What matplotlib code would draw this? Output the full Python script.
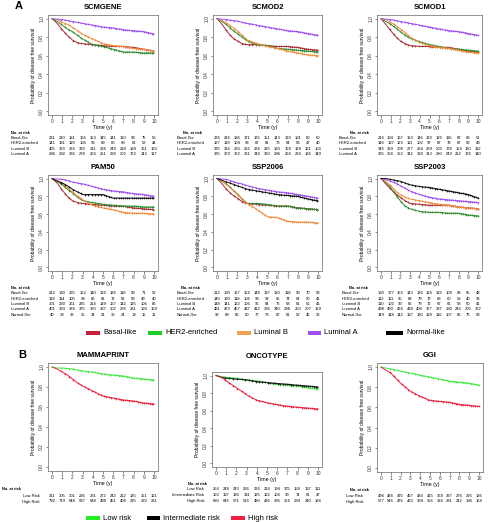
import numpy as np
import matplotlib
matplotlib.use("Agg")
import matplotlib.pyplot as plt
from matplotlib.patches import Rectangle
from matplotlib.transforms import blended_transform_factory

plt.rcParams['font.family'] = ['Liberation Sans', 'DejaVu Sans']

FW, FH = 490, 522
fig = plt.figure(figsize=(FW / 100, FH / 100), dpi=100)

# ---------------- data ----------------
years = list(range(11))
time_grid = [0, 0.5, 1, 1.5, 2, 2.5, 3, 4, 5, 6, 7, 8, 9, 10]
censor_times = [0.9, 1.3, 1.7, 2.1, 2.5, 2.8, 3.2, 3.5, 3.9, 4.2, 4.5, 4.8, 5.1, 5.3,
                5.6, 5.8, 6.1, 6.3, 6.6, 6.8, 7.0, 7.2, 7.4, 7.6, 7.8, 8.0, 8.2,
                8.4, 8.6, 8.8, 9.0, 9.2, 9.4, 9.6, 9.8, 9.95]

subtypes = ["Basal-like", "HER2-enriched", "Luminal B", "Luminal A", "Normal-like"]
risks = ["Low risk", "Intermediate risk", "High risk"]

# survival probabilities at time_grid
scmgene_surv = {
    "Basal-like":    [1, .95, .88, .82, .77, .74, .73, .72, .71, .70, .70, .69, .67, .65],
    "HER2-enriched": [1, .97, .93, .89, .86, .82, .78, .72, .70, .67, .64, .64, .63, .63],
    "Luminal B":     [1, .99, .96, .94, .91, .87, .83, .78, .73, .71, .70, .68, .67, .65],
    "Luminal A":     [1, .995, .99, .98, .97, .96, .95, .93, .91, .90, .88, .87, .86, .835],
}
scmod2_surv = {
    "Basal-like":    [1, .94, .86, .80, .76, .73, .72, .72, .71, .70, .70, .69, .67, .66],
    "HER2-enriched": [1, .97, .93, .88, .84, .80, .76, .72, .71, .68, .67, .66, .65, .64],
    "Luminal B":     [1, .98, .95, .91, .87, .82, .77, .73, .70, .68, .65, .63, .61, .60],
    "Luminal A":     [1, .995, .99, .98, .975, .96, .95, .93, .91, .89, .87, .86, .84, .82],
}
scmod1_surv = {
    "Basal-like":    [1, .94, .87, .81, .76, .73, .71, .70, .70, .69, .69, .67, .65, .64],
    "HER2-enriched": [1, .97, .94, .90, .86, .82, .79, .75, .72, .70, .68, .67, .66, .65],
    "Luminal B":     [1, .99, .96, .93, .89, .85, .80, .74, .71, .69, .68, .66, .64, .63],
    "Luminal A":     [1, .995, .99, .98, .97, .96, .95, .93, .91, .89, .87, .86, .84, .82],
}
pam50_surv = {
    "Basal-like":    [1, .95, .87, .80, .75, .73, .72, .71, .70, .69, .69, .67, .66, .65],
    "HER2-enriched": [1, .97, .93, .88, .84, .79, .75, .73, .71, .70, .69, .69, .68, .68],
    "Luminal B":     [1, .98, .95, .90, .85, .80, .76, .70, .67, .65, .62, .61, .61, .60],
    "Luminal A":     [1, .995, .99, .98, .96, .95, .94, .91, .88, .86, .85, .83, .82, .80],
    "Normal-like":   [1, .97, .95, .92, .88, .85, .82, .82, .82, .78, .78, .78, .78, .78],
}
ssp2006_surv = {
    "Basal-like":    [1, .94, .87, .82, .78, .74, .72, .71, .70, .69, .69, .67, .66, .65],
    "HER2-enriched": [1, .97, .93, .88, .83, .77, .72, .72, .71, .69, .69, .67, .66, .65],
    "Luminal B":     [1, .97, .93, .88, .82, .77, .72, .65, .57, .56, .52, .51, .51, .50],
    "Luminal A":     [1, .995, .99, .97, .95, .94, .92, .89, .87, .85, .84, .82, .80, .78],
    "Normal-like":   [1, .98, .96, .94, .92, .90, .88, .86, .84, .82, .81, .80, .77, .75],
}
ssp2003_surv = {
    "Basal-like":    [1, .94, .88, .83, .79, .75, .72, .71, .70, .70, .70, .68, .67, .66],
    "HER2-enriched": [1, .96, .90, .82, .75, .69, .66, .63, .62, .62, .61, .61, .59, .58],
    "Luminal B":     [1, .97, .92, .86, .82, .79, .77, .75, .73, .71, .70, .68, .67, .66],
    "Luminal A":     [1, .99, .97, .95, .92, .89, .86, .82, .79, .77, .76, .75, .74, .73],
    "Normal-like":   [1, 1.0, .99, .98, .97, .95, .93, .91, .90, .88, .86, .84, .82, .78],
}
mammaprint_surv = {
    "Low risk":  [1, .99, .99, .985, .98, .97, .96, .95, .93, .92, .91, .89, .88, .87],
    "High risk": [1, .98, .95, .92, .88, .84, .81, .76, .71, .69, .67, .66, .64, .63],
}
oncotype_surv = {
    "Low risk":          [1, .99, .98, .975, .97, .96, .95, .94, .92, .90, .89, .88, .86, .85],
    "Intermediate risk": [1, .98, .97, .965, .96, .955, .95, .93, .92, .91, .90, .89, .88, .87],
    "High risk":         [1, .98, .94, .90, .86, .82, .78, .72, .69, .67, .65, .64, .63, .62],
}
ggi_surv = {
    "Low risk":  [1, .99, .98, .97, .96, .95, .94, .92, .90, .88, .86, .85, .84, .82],
    "High risk": [1, .97, .94, .89, .84, .80, .76, .71, .67, .66, .65, .63, .62, .61],
}

# numbers at risk
scmgene_risk = {
    "Basal-like":    [231, 210, 181, 166, 153, 145, 141, 130, 98, 75, 56],
    "HER2-enriched": [141, 131, 119, 106, 96, 89, 80, 69, 61, 52, 44],
    "Luminal B":     [405, 383, 364, 333, 311, 284, 249, 218, 189, 161, 133],
    "Luminal A":     [296, 292, 286, 278, 264, 251, 228, 202, 172, 143, 117],
}
scmod2_risk = {
    "Basal-like":    [236, 216, 186, 171, 165, 151, 143, 133, 101, 80, 60],
    "HER2-enriched": [127, 119, 109, 96, 87, 81, 73, 64, 58, 47, 40],
    "Luminal B":     [325, 314, 283, 256, 234, 215, 183, 159, 139, 121, 103],
    "Luminal A":     [385, 379, 372, 361, 344, 330, 296, 264, 224, 186, 149],
}
scmod1_risk = {
    "Basal-like":    [214, 194, 167, 153, 146, 133, 126, 116, 87, 68, 51],
    "HER2-enriched": [146, 137, 123, 111, 102, 97, 87, 78, 67, 58, 49],
    "Luminal B":     [346, 339, 308, 277, 254, 229, 203, 178, 154, 130, 112],
    "Luminal A":     [365, 358, 352, 342, 328, 313, 280, 249, 212, 176, 140],
}
pam50_risk = {
    "Basal-like":    [212, 190, 165, 152, 140, 134, 126, 118, 90, 71, 52],
    "HER2-enriched": [119, 114, 105, 93, 86, 81, 72, 66, 58, 49, 40],
    "Luminal B":     [301, 290, 261, 235, 214, 189, 167, 142, 125, 106, 86],
    "Luminal A":     [401, 393, 384, 375, 360, 337, 302, 276, 231, 193, 159],
    "Normal-like":   [40, 39, 38, 35, 34, 31, 30, 24, 19, 15, 11],
}
ssp2006_risk = {
    "Basal-like":    [212, 190, 167, 154, 148, 137, 130, 118, 90, 70, 58],
    "HER2-enriched": [140, 130, 118, 106, 98, 92, 85, 74, 64, 50, 41],
    "Luminal B":     [148, 141, 122, 106, 95, 84, 76, 68, 61, 56, 46],
    "Luminal A":     [481, 473, 457, 437, 412, 386, 340, 298, 250, 207, 169],
    "Normal-like":   [92, 89, 86, 80, 77, 73, 67, 61, 52, 45, 36],
}
ssp2003_risk = {
    "Basal-like":    [190, 177, 153, 143, 136, 124, 119, 108, 83, 65, 48],
    "HER2-enriched": [112, 111, 95, 83, 79, 72, 68, 60, 53, 40, 33],
    "Luminal B":     [110, 102, 90, 85, 79, 72, 67, 61, 58, 50, 41],
    "Luminal A":     [498, 490, 468, 438, 408, 377, 337, 290, 246, 205, 172],
    "Normal-like":   [149, 148, 142, 137, 130, 128, 116, 107, 86, 75, 58],
}
mammaprint_risk = {
    "Low Risk":  [311, 305, 301, 295, 281, 272, 242, 212, 185, 151, 121],
    "High Risk": [792, 719, 648, 587, 548, 498, 451, 408, 335, 283, 231],
}
oncotype_risk = {
    "Low Risk":          [254, 248, 243, 236, 226, 214, 194, 175, 158, 137, 111],
    "Intermediate Risk": [150, 137, 136, 131, 125, 122, 104, 90, 74, 61, 47],
    "High Risk":         [680, 646, 571, 516, 480, 436, 395, 354, 294, 240, 184],
}
ggi_risk = {
    "Low Risk":  [496, 484, 475, 457, 434, 415, 369, 327, 276, 226, 186],
    "High Risk": [577, 546, 476, 433, 394, 356, 324, 281, 242, 196, 158],
}

# ---------------- styles ----------------
curve_colors = {
    "Basal-like": "#A82A32", "HER2-enriched": "#2E8B2E", "Luminal B": "#F08A3A",
    "Luminal A": "#9B4DEE", "Normal-like": "#111111",
    "Low risk": "#44E844", "Intermediate risk": "#111111", "High risk": "#E8203C",
}
legend_colors = {
    "Basal-like": "#C8203C", "HER2-enriched": "#22CC22", "Luminal B": "#F0A050",
    "Luminal A": "#A050F0", "Normal-like": "#000000",
    "Low risk": "#22EE22", "Intermediate risk": "#000000", "High risk": "#EE2040",
}


def px_axes(l, t, r, b):
    return fig.add_axes([l / FW, 1 - b / FH, (r - l) / FW, (b - t) / FH])


def fy(ypx):
    return 1 - ypx / FH


def draw_panel(box, title, surv, risk, header, labels, title_pad=4):
    ax = px_axes(*box)
    for g, y in surv.items():
        c = curve_colors[g]
        ax.plot(time_grid, y, color=c, lw=0.7)
        cy = np.interp(censor_times, time_grid, y)
        ax.plot(censor_times, cy, ls='none', marker='+', ms=2.0, mew=0.45, color=c)
    ax.set_xlim(-0.4, 10.4)
    ax.set_ylim(-0.04, 1.04)
    ax.set_xticks(years)
    ax.set_yticks([0, 0.2, 0.4, 0.6, 0.8, 1.0])
    ax.set_yticklabels(["0.0", "0.2", "0.4", "0.6", "0.8", "1.0"], rotation=90, va='center')
    ax.tick_params(labelsize=3.5, length=1.8, width=0.4, pad=1, colors='#333333')
    for s in ax.spines.values():
        s.set_linewidth(0.5)
        s.set_color('#666666')
    ax.set_xlabel("Time (y)", fontsize=3.8, labelpad=1)
    ax.set_ylabel("Probability of disease free survival", fontsize=3.5, labelpad=2)
    ax.set_title(title, fontsize=5.5, fontweight='bold', pad=title_pad)

    trans = blended_transform_factory(ax.transData, fig.transFigure)
    hx, hy = header
    fig.text(hx / FW, fy(hy), "No. at risk", fontsize=2.8, fontweight='bold',
             ha='center', va='center')
    lx, ha, rows = labels
    for (name, vals), ry in zip(risk.items(), rows):
        fig.text(lx / FW, fy(ry), name, fontsize=3.0, ha=ha, va='center')
        for yr, v in zip(years, vals):
            ax.text(yr, fy(ry), str(v), fontsize=3.0, ha='center', va='center',
                    transform=trans)
    return ax


rows1 = [138, 143.5, 149, 154.5]
rows2 = [293.5, 298.8, 304.1, 309.4, 314.7]

draw_panel((48, 15, 158, 115), "SCMGENE", scmgene_surv, scmgene_risk, (20, 133), (11, 'left', rows1))
draw_panel((213, 15, 322, 115), "SCMOD2", scmod2_surv, scmod2_risk, (192, 133), (177, 'left', rows1))
draw_panel((377, 15, 482, 115), "SCMOD1", scmod1_surv, scmod1_risk, (359, 133), (339, 'left', rows1))

draw_panel((48, 175, 158, 271), "PAM50", pam50_surv, pam50_risk, (20, 288), (11, 'left', rows2))
draw_panel((213, 175, 322, 271), "SSP2006", ssp2006_surv, ssp2006_risk, (190, 288), (177, 'left', rows2))
draw_panel((377, 175, 482, 271), "SSP2003", ssp2003_surv, ssp2003_risk, (358, 288), (342, 'left', rows2))

draw_panel((48, 363, 158, 471), "MAMMAPRINT", mammaprint_surv, mammaprint_risk, (11, 489), (40, 'right', [496, 501.5]))
draw_panel((212, 372, 322, 467), "ONCOTYPE", oncotype_surv, oncotype_risk, (197, 484), (204, 'right', [489.5, 495.2, 501]), title_pad=10)
draw_panel((377, 363, 483, 472), "GGI", ggi_surv, ggi_risk, (359, 490), (363, 'right', [496, 501.5]))

# panel letters
fig.text(19 / FW, fy(6), "A", fontsize=8, fontweight='bold', ha='center', va='center')
fig.text(22 / FW, fy(355), "B", fontsize=8, fontweight='bold', ha='center', va='center')


def legend_item(x, y, w, label):
    fig.add_artist(Rectangle((x / FW, fy(y + 2)), w / FW, 4 / FH, transform=fig.transFigure,
                             color=legend_colors[label], lw=0))
    fig.text((x + w + 3) / FW, fy(y), label, fontsize=5.5, ha='left', va='center')


for x, w, lab in zip([86, 148, 237, 308, 386], [14, 14, 14, 13, 17], subtypes):
    legend_item(x, 333, w, lab)
for x, w, lab in zip([86, 147, 231], [14, 13, 14], risks):
    legend_item(x, 518, w, lab)

fig.savefig("out.png", dpi=100)
